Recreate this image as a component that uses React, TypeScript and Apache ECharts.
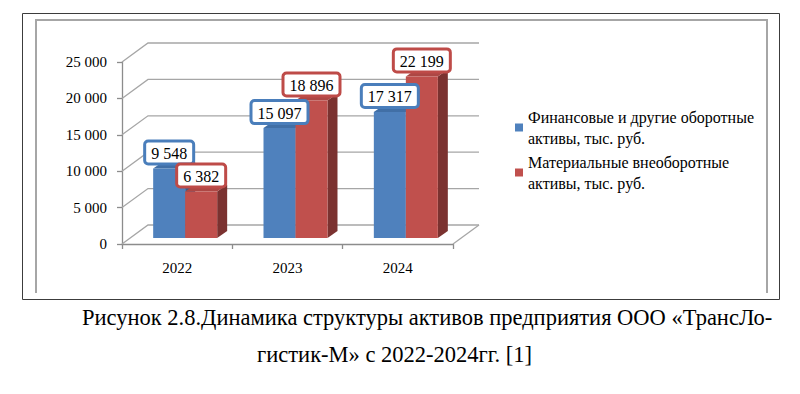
import React, { useEffect, useRef } from 'react';
import * as echarts from 'echarts';

const years = ['2022', '2023', '2024'];
const financial = [9548, 15097, 17317];
const material = [6382, 18896, 22199];
const seriesNames = [
  'Финансовые и другие оборотные активы, тыс. руб.',
  'Материальные внеоборотные активы, тыс. руб.',
];
const yTicks = [0, 5000, 10000, 15000, 20000, 25000];
const captionLines = [
  'Рисунок 2.8.Динамика структуры активов предприятия ООО «ТрансЛо-',
  'гистик-М» с 2022-2024гг. [1]',
];

const SERIF = 'Liberation Serif';
const DEPTH_X = 26;
const DEPTH_Y = 19;
const BAR_DX = 8;
const BAR_DY = 6;
const SIDE_DX = 10;
const SIDE_DY = 7;

const palettes = [
  { front: '#4f81bd', top: '#416fa6', side: '#385d8a', border: '#4a7ebb' },
  { front: '#c0504d', top: '#ad4744', side: '#7b3230', border: '#be4b48' },
];

const fmt = (v: number) => String(v).replace(/\B(?=(\d{3})+(?!\d))/g, ' ');

function barGeom(params: any, api: any, idx: number) {
  const i = api.value(0);
  const v = api.value(1);
  const top = api.coord([i, v]);
  const base = api.coord([i, 0]);
  const band = api.size([1, 0])[0];
  const w = band * 0.29;
  const cx = top[0] + BAR_DX;
  const x0 = idx === 0 ? cx - w : cx;
  const x1 = x0 + w;
  const yb = base[1] - BAR_DY;
  const yt = top[1] - BAR_DY;
  return { x0, x1, yb, yt, v };
}

function barRender(idx: number) {
  const p = palettes[idx];
  return (params: any, api: any) => {
    const { x0, x1, yb, yt } = barGeom(params, api, idx);
    return {
      type: 'group',
      children: [
        {
          type: 'polygon',
          shape: { points: [[x1, yb], [x1 + SIDE_DX, yb - SIDE_DY], [x1 + SIDE_DX, yt - SIDE_DY], [x1, yt]] },
          style: { fill: p.side },
        },
        {
          type: 'polygon',
          shape: { points: [[x0, yt], [x1, yt], [x1 + SIDE_DX, yt - SIDE_DY], [x0 + SIDE_DX, yt - SIDE_DY]] },
          style: { fill: p.top },
        },
        {
          type: 'rect',
          shape: { x: x0, y: yt, width: x1 - x0, height: yb - yt },
          style: { fill: p.front },
        },
      ],
    };
  };
}

function labelRender(idx: number) {
  const p = palettes[idx];
  return (params: any, api: any) => {
    const { x0, x1, yt, v } = barGeom(params, api, idx);
    return {
      type: 'text',
      x: (x0 + x1) / 2,
      y: yt - SIDE_DY + 1,
      style: {
        text: fmt(v),
        fontSize: 16,
        fontFamily: SERIF,
        fill: '#000',
        align: 'center',
        verticalAlign: 'bottom',
        backgroundColor: '#fff',
        borderColor: p.border,
        borderWidth: 3,
        borderRadius: 2,
        padding: [3, 5, 1, 5],
      },
    };
  };
}

function wallRender(params: any, api: any) {
  const cs = params.coordSys;
  const v = api.value(1);
  const y = api.coord([0, v])[1];
  const x0 = cs.x;
  const x1 = cs.x + cs.width;
  const children: any[] = [
    {
      type: 'polyline',
      shape: { points: [[x0, y], [x0 + DEPTH_X, y - DEPTH_Y], [x1 + DEPTH_X, y - DEPTH_Y]] },
      style: { stroke: '#a6a6a6', lineWidth: 1.3, fill: 'none' },
    },
  ];
  if (v === 0) {
    children.push({
      type: 'line',
      shape: { x1: x1, y1: y, x2: x1 + DEPTH_X, y2: y - DEPTH_Y },
      style: { stroke: '#a6a6a6', lineWidth: 1.3 },
    });
  }
  return { type: 'group', children };
}

export default function App() {
  const ref = useRef<HTMLDivElement>(null);
  useEffect(() => {
    if (!ref.current) return;
    const chart = echarts.init(ref.current, undefined, { renderer: 'svg' });
    const toPairs = (arr: number[]) => arr.map((v, i) => [i, v]);
    chart.setOption({
      animation: false,
      backgroundColor: '#fff',
      textStyle: { fontFamily: SERIF },
      grid: { left: 122, top: 62, width: 331, height: 182, containLabel: false },
      xAxis: {
        type: 'category',
        data: years,
        boundaryGap: true,
        axisLine: { show: true, lineStyle: { color: '#8c8c8c', width: 1.3 } },
        axisTick: { show: true, alignWithLabel: false, length: 5, lineStyle: { color: '#8c8c8c', width: 1.3 } },
        axisLabel: { fontSize: 15, fontFamily: SERIF, color: '#000', margin: 16 },
        splitLine: { show: false },
      },
      yAxis: {
        type: 'value',
        min: yTicks[0],
        max: yTicks[yTicks.length - 1],
        interval: yTicks[1] - yTicks[0],
        axisLine: { show: true, lineStyle: { color: '#8c8c8c', width: 1.3 } },
        axisTick: { show: true, length: 5, lineStyle: { color: '#8c8c8c', width: 1.3 } },
        axisLabel: { fontSize: 15, fontFamily: SERIF, color: '#000', margin: 15, formatter: (v: number) => fmt(v) },
        splitLine: { show: false },
      },
      legend: {
        data: seriesNames,
        orient: 'vertical',
        left: 515,
        top: 96,
        padding: 0,
        itemGap: -18,
        icon: 'rect',
        itemWidth: 8,
        itemHeight: 8,
        selectedMode: false,
        formatter: (name: string) => name.replace(' активы', '\nактивы'),
        textStyle: { fontSize: 16, fontFamily: SERIF, color: '#000', lineHeight: 21, padding: [21, 0, 0, 0] },
      },
      graphic: [
        {
          type: 'rect',
          shape: { x: 22.5, y: 13.5, width: 757, height: 286 },
          style: { fill: 'none', stroke: '#3c3c3c', lineWidth: 1 },
        },
        {
          type: 'polyline',
          shape: { points: [[36, 293], [36, 20], [767, 20], [767, 293]] },
          style: { fill: 'none', stroke: '#a6a6a6', lineWidth: 2 },
        },
        {
          type: 'text',
          x: 82,
          y: 317,
          style: { text: captionLines[0], fontSize: 22.5, fontFamily: SERIF, fill: '#000', verticalAlign: 'middle' },
        },
        {
          type: 'text',
          x: 257,
          y: 354,
          style: { text: captionLines[1], fontSize: 22.5, fontFamily: SERIF, fill: '#000', verticalAlign: 'middle' },
        },
      ],
      series: [
        {
          type: 'custom',
          name: 'walls',
          z: 1,
          clip: false,
          silent: true,
          renderItem: wallRender,
          data: yTicks.map((v) => [0, v]),
        },
        {
          type: 'custom',
          name: seriesNames[0],
          z: 2,
          clip: false,
          itemStyle: { color: palettes[0].front },
          renderItem: barRender(0),
          data: toPairs(financial),
        },
        {
          type: 'custom',
          name: seriesNames[1],
          z: 2,
          clip: false,
          itemStyle: { color: palettes[1].front },
          renderItem: barRender(1),
          data: toPairs(material),
        },
        {
          type: 'custom',
          name: 'labels0',
          z: 5,
          clip: false,
          renderItem: labelRender(0),
          data: toPairs(financial),
        },
        {
          type: 'custom',
          name: 'labels1',
          z: 5,
          clip: false,
          renderItem: labelRender(1),
          data: toPairs(material),
        },
      ],
    });
    return () => chart.dispose();
  }, []);
  return (
    <div
      ref={ref}
      style={{ position: 'absolute', left: 0, top: 0, width: 800, height: 394, background: '#fff' }}
    />
  );
}
